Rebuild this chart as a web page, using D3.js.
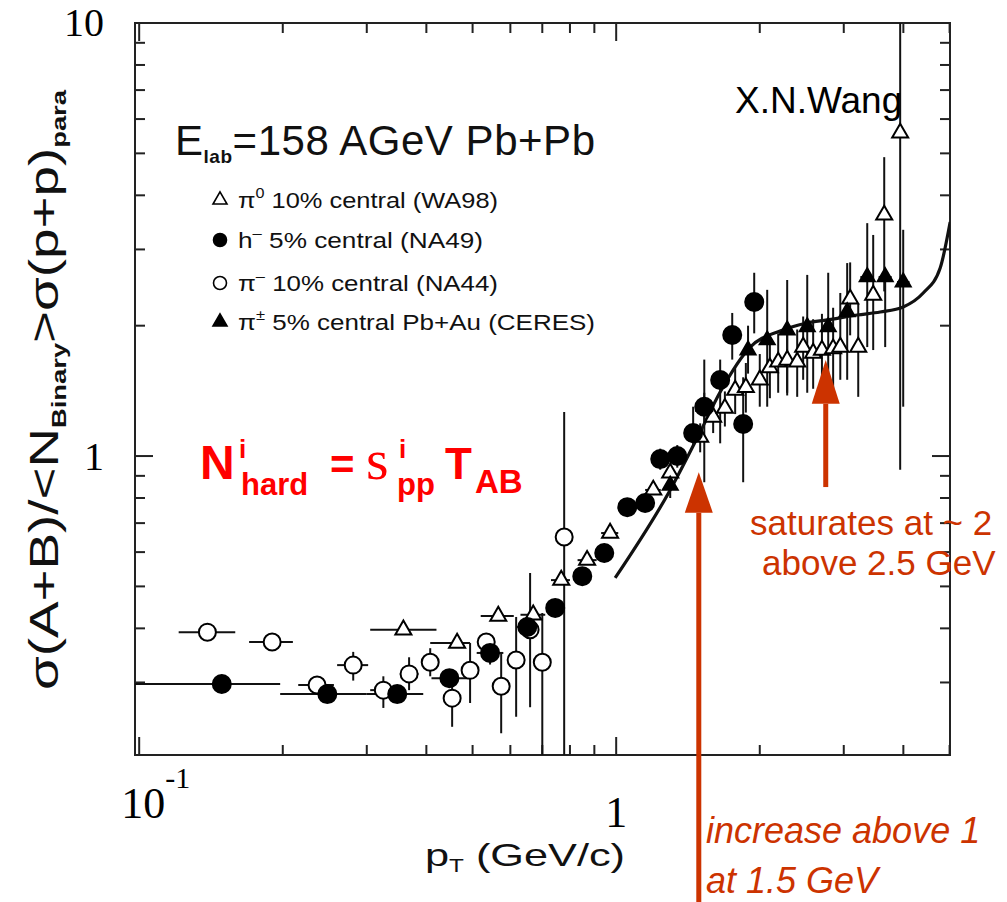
<html>
<head>
<title>SPS Pb+Pb ratio</title>
<script src="https://d3js.org/d3.v7.min.js"></script>
<style>
  body { margin: 0; background: #fff; }
  text { font-family: "Liberation Sans", Arial, sans-serif; }
</style>
</head>
<body>
<div id="chart"></div>
<script>
// values, one row per point: [pT, ratio, yLow, yHigh, xLow, xHigh]
var wa98 = [ // pi0 10% central, open triangles
  [0.358, 0.397, null, null, 0.305, 0.42],
  [0.464, 0.370, null, null, 0.4075, 0.494],
  [0.566, 0.427, null, null, 0.52, 0.61],
  [0.670, 0.430, null, null, 0.63, 0.71],
  [0.767, 0.517, null, null, 0.73, 0.80],
  [0.869, 0.575, null, null, 0.83, 0.91],
  [0.971, 0.664, null, null, 0.93, 1.01],
  [1.196, 0.835, null, null, 1.15, 1.24],
  [1.298, 0.914, 0.87, 0.96, null, null],
  [1.50, 1.106, 1.02, 1.19, null, null],
  [1.597, 1.23, 1.13, 1.33, null, null],
  [1.69, 1.29, 1.17, 1.41, null, null],
  [1.776, 1.42, 1.25, 1.60, null, null],
  [1.87, 1.44, 1.26, 1.64, null, null],
  [2.0, 1.50, 1.30, 1.72, null, null],
  [2.10, 1.60, 1.36, 1.86, null, null],
  [2.186, 1.649, 1.40, 1.92, null, null],
  [2.283, 1.666, 1.40, 1.95, null, null],
  [2.396, 1.649, 1.37, 1.96, null, null],
  [2.466, 1.785, 1.50, 2.10, null, null],
  [2.588, 1.729, 1.43, 2.07, null, null],
  [2.70, 1.757, 1.43, 2.13, null, null],
  [2.85, 1.77, 1.42, 2.20, null, null],
  [2.95, 1.785, 1.50, 2.38, null, null],
  [3.094, 2.305, 1.90, 2.80, null, null],
  [3.217, 1.785, 1.37, 2.25, null, null],
  [3.458, 2.354, 1.757, 3.24, null, null],
  [3.647, 3.603, 2.40, 4.90, null, null],
  [3.939, 5.572, 0.93, 12, null, null]
];
var na49 = [ // h- 5% central, filled circles
  [0.149, 0.2975, null, null, 0.09, 0.1975],
  [0.248, 0.282, null, null, 0.1975, 0.30],
  [0.3475, 0.282, null, null, 0.30, 0.394],
  [0.447, 0.307, 0.295, 0.32, 0.41, 0.49],
  [0.544, 0.351, 0.33, 0.37, 0.51, 0.58],
  [0.651, 0.403, 0.385, 0.42, 0.62, 0.68],
  [0.745, 0.446, null, null, 0.72, 0.77],
  [0.849, 0.528, null, null, 0.82, 0.88],
  [0.944, 0.597, null, null, null, null],
  [1.055, 0.762, null, null, null, null],
  [1.150, 0.779, null, null, null, null],
  [1.237, 0.984, 0.93, 1.04, null, null],
  [1.343, 1.0, 0.94, 1.06, null, null],
  [1.45, 1.13, 1.06, 1.30, null, null],
  [1.53, 1.30, 0.87, 1.67, null, null],
  [1.652, 1.498, 1.07, 1.67, null, null],
  [1.751, 1.903, 1.67, 2.14, null, null],
  [1.846, 1.186, 0.87, 1.52, null, null],
  [1.947, 2.269, 1.92, 2.65, null, null]
];
var na44 = [ // pi- 10% central, open circles
  [0.139, 0.392, null, null, 0.121, 0.159],
  [0.190, 0.372, null, null, 0.170, 0.210],
  [0.236, 0.296, 0.288, 0.304, 0.2155, 0.256],
  [0.281, 0.329, 0.303, 0.353, 0.260, 0.302],
  [0.325, 0.288, 0.262, 0.310, 0.305, 0.347],
  [0.368, 0.314, 0.288, 0.343, 0.352, 0.385],
  [0.4075, 0.334, 0.31, 0.36, 0.39, 0.425],
  [0.453, 0.276, 0.237, 0.304, 0.435, 0.47],
  [0.494, 0.320, 0.269, 0.370, 0.475, 0.515],
  [0.534, 0.372, 0.355, 0.39, null, null],
  [0.574, 0.294, 0.229, 0.351, null, null],
  [0.617, 0.338, 0.250, 0.425, null, null],
  [0.660, 0.397, 0.263, 0.537, null, null],
  [0.700, 0.334, 0.19, 0.434, null, null],
  [0.778, 0.650, 0.19, 1.264, null, null]
];
var ceres = [ // pi+- 5% central Pb+Au, filled triangles
  [1.298, 0.855, 0.80, 0.92, null, null],
  [1.53, 1.30, 1.20, 1.40, null, null],
  [1.89, 1.757, 1.55, 2.00, null, null],
  [2.073, 1.853, 1.30, 2.42, null, null],
  [2.283, 1.954, 1.38, 2.55, null, null],
  [2.515, 1.986, 1.40, 2.62, null, null],
  [2.783, 1.986, 1.35, 2.65, null, null],
  [3.05, 2.151, 1.50, 2.79, null, null],
  [3.36, 2.591, 1.785, 3.45, 3.25, 3.47],
  [3.664, 2.591, 1.785, 2.69, 3.55, 3.78],
  [3.997, 2.522, 1.30, 3.33, 3.88, 4.12]
];
// theory curve
var curvePt = [0.995, 1.298, 1.50, 1.652, 1.910, 2.207, 2.515, 2.769, 3.201, 3.577, 3.997, 4.402, 4.778, 5.014];
var curveVal = [0.523, 0.835, 1.136, 1.405, 1.785, 1.945, 2.029, 2.062, 2.117, 2.151, 2.209, 2.379, 2.718, 3.471];

var legendLabels = [
  ["\u03c0", "0", " 10% central (WA98)"],
  ["h", "\u2013", " 5% central (NA49)"],
  ["\u03c0", "\u2013", " 10% central (NA44)"],
  ["\u03c0", "\u00b1", " 5% central Pb+Au (CERES)"]
];
var legendWidths = [260, 245, 260, 357];

var W = 1007, H = 902;
var pLeft = 135, pRight = 950, pTop = 23, pBottom = 755;

var x = d3.scaleLog().domain([0.098, 5.01]).range([pLeft, pRight]);
var y = d3.scaleLog().domain([0.204, 10]).range([pBottom, pTop]);

var svg = d3.select("#chart").append("svg")
    .attr("width", W)
    .attr("height", H);

svg.append("clipPath").attr("id", "plotclip")
    .append("rect")
    .attr("x", pLeft).attr("y", pTop)
    .attr("width", pRight - pLeft).attr("height", pBottom - pTop);

// ticks on all four sides, pointing in
function isMajor(t) {
    var l = Math.log10(t);
    return Math.abs(l - Math.round(l)) < 1e-9;
}
var axisColor = "#222";
var tk = svg.append("g").attr("stroke", axisColor).attr("stroke-width", 2);
x.ticks().forEach(function(t) {
    var len = isMajor(t) ? 18 : 10;
    tk.append("line").attr("x1", x(t)).attr("x2", x(t)).attr("y1", pBottom).attr("y2", pBottom - len);
    tk.append("line").attr("x1", x(t)).attr("x2", x(t)).attr("y1", pTop).attr("y2", pTop + len);
});
y.ticks().forEach(function(t) {
    var len = isMajor(t) ? 18 : 10;
    tk.append("line").attr("y1", y(t)).attr("y2", y(t)).attr("x1", pLeft).attr("x2", pLeft + len);
    tk.append("line").attr("y1", y(t)).attr("y2", y(t)).attr("x1", pRight).attr("x2", pRight - len);
});

svg.append("rect")
    .attr("x", pLeft).attr("y", pTop)
    .attr("width", pRight - pLeft).attr("height", pBottom - pTop)
    .attr("fill", "none").attr("stroke", axisColor).attr("stroke-width", 2);

// tick labels (Times-like)
var serif = "'Liberation Serif', 'Times New Roman', serif";
var xl = svg.append("text").attr("x", x(0.1) - 18).attr("y", 818)
    .style("font-family", serif).style("font-size", "44px");
xl.append("tspan").text("10");
xl.append("tspan").attr("dy", -30).style("font-size", "30px").text("-1");
svg.append("text").attr("x", x(1)).attr("y", 827).attr("text-anchor", "middle")
    .style("font-family", serif).style("font-size", "44px").text("1");
svg.append("text").attr("x", 104).attr("y", y(10) + 13).attr("text-anchor", "end")
    .style("font-family", serif).style("font-size", "40px").text("10");
svg.append("text").attr("x", 104).attr("y", y(1) + 14).attr("text-anchor", "end")
    .style("font-family", serif).style("font-size", "40px").text("1");

// axis titles
var xt = svg.append("text").attr("x", 425).attr("y", 866)
    .attr("textLength", 200).attr("lengthAdjust", "spacingAndGlyphs")
    .style("font-size", "32px").attr("fill", "#111");
xt.append("tspan").text("p");
xt.append("tspan").attr("dy", 6).style("font-size", "18px").text("T");
xt.append("tspan").attr("dy", -6).text(" (GeV/c)");

var yt = svg.append("text")
    .attr("transform", "translate(58,690) rotate(-90)")
    .attr("textLength", 600).attr("lengthAdjust", "spacingAndGlyphs")
    .style("font-size", "40px").attr("fill", "#111");
yt.append("tspan").text("\u03c3(A+B)/<N");
yt.append("tspan").attr("dy", 8).style("font-size", "20px").style("font-weight", "bold").text("Binary");
yt.append("tspan").attr("dy", -8).text(">\u03c3(p+p)");
yt.append("tspan").attr("dy", 8).style("font-size", "20px").style("font-weight", "bold").text("para");

// plot contents
var plot = svg.append("g").attr("clip-path", "url(#plotclip)");

plot.append("path")
    .datum(d3.zip(curvePt, curveVal))
    .attr("fill", "none").attr("stroke", "#111").attr("stroke-width", 3.2)
    .attr("d", d3.line()
        .x(function(d) { return x(d[0]); })
        .y(function(d) { return y(d[1]); })
        .curve(d3.curveMonotoneX));

function errorBars(data) {
    var g = plot.append("g").attr("stroke", "#111").attr("stroke-width", 2);
    data.forEach(function(d) {
        if (d[2] != null) {
            g.append("line").attr("x1", x(d[0])).attr("x2", x(d[0])).attr("y1", y(d[2])).attr("y2", y(d[3]));
        }
        if (d[4] != null) {
            g.append("line").attr("y1", y(d[1])).attr("y2", y(d[1])).attr("x1", x(d[4])).attr("x2", x(d[5]));
        }
    });
}
function triPath(s) {
    var h = s * Math.sqrt(3) / 2;
    return "M0," + (-h * 2 / 3) + "L" + (s / 2) + "," + (h / 3) + "L" + (-s / 2) + "," + (h / 3) + "Z";
}
function markers(g, data, shape, filled, size) {
    g.selectAll(null).data(data).enter()
        .append("path")
        .attr("transform", function(d) { return "translate(" + x(d[0]) + "," + y(d[1]) + ")"; })
        .attr("d", shape == "tri" ? triPath(size) : d3.symbol(d3.symbolCircle, Math.PI * size * size / 4)())
        .attr("fill", filled ? "#000" : "#fff")
        .attr("stroke", "#000").attr("stroke-width", 2);
}

errorBars(na44);
errorBars(na49);
errorBars(wa98);
errorBars(ceres);
var mk = plot.append("g");
markers(mk, na44, "circ", false, 17);
markers(mk, wa98, "tri", false, 16);
markers(mk, na49, "circ", true, 18);
markers(mk, ceres, "tri", true, 15);

// legend
svg.append("text").attr("x", 175).attr("y", 155)
    .attr("textLength", 420).attr("lengthAdjust", "spacing")
    .style("font-size", "42px").attr("fill", "#111")
    .call(function(t) {
        t.append("tspan").text("E");
        t.append("tspan").attr("dy", 8).style("font-size", "19px").style("font-weight", "bold").text("lab");
        t.append("tspan").attr("dy", -8).text("=158 AGeV Pb+Pb");
    });

var legY = [200, 240, 283, 322];
var legShape = [["tri", false], ["circ", true], ["circ", false], ["tri", true]];
legendLabels.forEach(function(lab, i) {
    svg.append("path")
        .attr("transform", "translate(220," + legY[i] + ")")
        .attr("d", legShape[i][0] == "tri" ? triPath(14) : d3.symbol(d3.symbolCircle, Math.PI * 13 * 13 / 4)())
        .attr("fill", legShape[i][1] ? "#000" : "#fff")
        .attr("stroke", "#000").attr("stroke-width", 1.6);
    var t = svg.append("text").attr("x", 238).attr("y", legY[i] + 8)
        .attr("textLength", legendWidths[i]).attr("lengthAdjust", "spacingAndGlyphs")
        .style("font-size", "22px").attr("fill", "#111");
    t.append("tspan").text(lab[0]);
    t.append("tspan").attr("dy", -10).style("font-size", "14px").text(lab[1]);
    t.append("tspan").attr("dy", 10).text(lab[2]);
});

svg.append("text").attr("x", 735).attr("y", 113)
    .style("font-size", "37px").attr("fill", "#000").text("X.N.Wang");

// red formula, one text with stacked sup/sub parts
var red = "#ff0000";
var f = svg.append("text").attr("fill", red).style("font-weight", "bold");
f.append("tspan").attr("x", 200).attr("y", 479).style("font-size", "48px").text("N");
f.append("tspan").attr("x", 239).attr("y", 458).style("font-size", "26px").text("i");
f.append("tspan").attr("x", 241).attr("y", 495).style("font-size", "31px").text("hard");
f.append("tspan").attr("x", 330).attr("y", 479).style("font-size", "42px").text("=");
f.append("tspan").attr("x", 366).attr("y", 479).style("font-family", serif).style("font-weight", "normal").style("font-size", "58px").text("s");
f.append("tspan").attr("x", 399).attr("y", 458).style("font-size", "26px").text("i");
f.append("tspan").attr("x", 397).attr("y", 495).style("font-size", "31px").text("pp");
f.append("tspan").attr("x", 445).attr("y", 479).style("font-size", "44px").text("T");
f.append("tspan").attr("x", 475).attr("y", 493).style("font-size", "33px").text("AB");

// orange annotations
var orange = "#cc3300";
function arrow(px, tipY, baseY, endY) {
    svg.append("line").attr("x1", px).attr("x2", px).attr("y1", baseY).attr("y2", endY)
        .attr("stroke", orange).attr("stroke-width", 5);
    svg.append("path")
        .attr("d", "M" + px + "," + tipY + "L" + (px + 14) + "," + baseY + "L" + (px - 14) + "," + baseY + "Z")
        .attr("fill", orange);
}
arrow(x(1.49), y(0.918), y(0.74), 902);
arrow(x(2.75), y(1.667), y(1.32), y(0.848));

svg.append("text").attr("x", 750).attr("y", 535).attr("fill", orange)
    .style("font-size", "35px").text("saturates at ~ 2");
svg.append("text").attr("x", 762).attr("y", 575).attr("fill", orange)
    .style("font-size", "35px").text("above 2.5 GeV");
svg.append("text").attr("x", 706).attr("y", 843).attr("fill", orange)
    .style("font-size", "36px").style("font-style", "italic").text("increase above 1");
svg.append("text").attr("x", 706).attr("y", 893).attr("fill", orange)
    .style("font-size", "36px").style("font-style", "italic").text("at 1.5 GeV");
</script>
</body>
</html>
